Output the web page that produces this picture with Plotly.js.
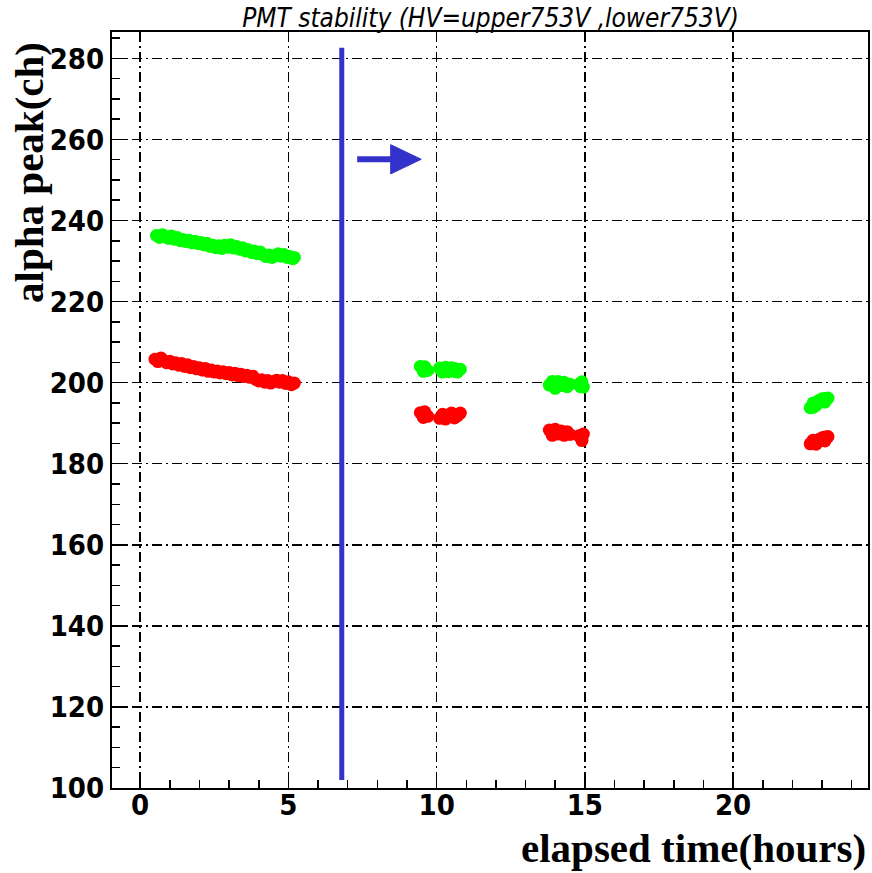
<!DOCTYPE html>
<html>
<head>
<meta charset="utf-8">
<script src="https://cdn.plot.ly/plotly-3.0.1.min.js"></script>
<style>html,body{margin:0;padding:0;background:#fff;}#chart{width:872px;height:873px;}</style>
</head>
<body>
<div id="chart"></div>
<script>
// upper PMT (green) readings: elapsed time (hours) and alpha peak (ch)
const upperTime = [0.55,0.65,0.75,0.85,0.95,1.05,1.15,1.25,1.35,1.45,1.55,1.65,1.75,1.85,1.95,2.05,2.15,2.25,2.35,2.45,2.55,2.65,2.75,2.85,2.95,3.05,3.15,3.25,3.35,3.45,3.55,3.65,3.75,3.85,3.95,4.05,4.15,4.25,4.35,4.45,4.55,4.65,4.75,4.85,4.95,5.05,5.15,5.2,
  9.45,9.55,9.6,9.7,9.55,10.1,10.2,10.3,10.4,10.5,10.6,10.7,10.8,10.3,10.6,
  13.8,13.9,14.0,14.1,14.2,14.3,14.4,14.5,14.8,14.9,14.95,14.0,14.85,
  22.6,22.7,22.8,22.9,23.0,23.1,23.2,22.7,23.1];
const upperPeak = [236.3,235.8,236.5,236.0,235.6,236.2,235.4,235.8,235.0,235.3,234.8,235.1,234.5,234.9,234.3,234.6,234.0,234.4,233.6,233.9,233.3,233.8,233.1,233.9,233.4,234.0,233.2,233.6,232.9,233.3,232.5,232.8,232.1,232.5,231.8,232.2,231.6,231.1,231.5,230.9,231.3,231.8,231.2,231.6,230.9,231.1,230.6,230.9,
  204.0,202.8,203.9,203.0,203.5,203.6,202.6,203.8,202.7,203.7,202.8,202.6,203.3,203.0,203.5,
  199.4,200.3,198.6,200.3,199.3,200.1,199.0,199.6,199.6,200.2,198.9,199.7,199.0,
  193.8,195.0,194.4,195.6,196.0,195.2,196.2,193.9,196.1];

// lower PMT (red) readings
const lowerTime = [0.5,0.6,0.7,0.8,0.9,1.0,1.1,1.2,1.3,1.4,1.5,1.6,1.7,1.8,1.9,2.0,2.1,2.2,2.3,2.4,2.5,2.6,2.7,2.8,2.9,3.0,3.1,3.2,3.3,3.4,3.5,3.6,3.7,3.8,3.9,4.0,4.1,4.2,4.3,4.4,4.5,4.6,4.7,4.8,4.9,5.0,5.1,5.2,
  9.45,9.55,9.6,9.7,9.55,10.1,10.2,10.3,10.4,10.5,10.6,10.7,10.8,10.3,10.6,
  13.8,13.9,14.0,14.1,14.2,14.3,14.4,14.5,14.8,14.9,14.95,14.9,14.0,
  22.6,22.7,22.8,22.9,23.0,23.1,23.2,22.7,23.1];
const lowerPeak = [205.8,205.2,206.1,205.4,204.9,205.3,204.6,204.9,204.3,204.7,204.0,204.4,203.7,204.0,203.4,203.7,203.1,203.5,202.8,203.1,202.6,202.9,202.4,202.7,202.2,202.5,201.9,202.3,201.7,202.1,201.5,201.8,201.3,201.6,200.8,200.4,200.7,200.1,200.5,199.9,200.3,200.6,200.1,200.5,199.8,200.2,199.5,199.9,
  192.6,191.4,192.8,191.7,191.9,191.2,192.2,191.0,192.0,192.5,191.3,191.8,192.5,191.6,192.1,
  188.3,187.0,188.5,187.3,188.1,187.0,187.9,187.2,186.9,186.0,187.3,185.7,187.6,
  184.9,185.8,184.8,186.0,186.4,185.6,186.7,185.0,186.6];

// x / y tick values
const xTicks = [0,5,10,15,20];
const yTicks = [100,120,140,160,180,200,220,240,260,280];

// marker line (HV change) and arrow, in data units
const hvChangeTime = 6.8;
const hvLineRange = [102, 282.6];
const arrowShaft = [7.32, 8.5];
const arrowTip = 9.48;
const arrowLevel = 255.1;
const arrowHalf = 3.6;

const tickFont = {family: "'Liberation Sans Narrow','DejaVu Sans Condensed',Arial,sans-serif", size: 29, color: '#000', weight: 'bold'};
const titleFont = {family: "'Liberation Serif','Times New Roman',serif", size: 41, color: '#000', weight: 'bold'};

const traces = [
  {x: upperTime, y: upperPeak, type: 'scatter', mode: 'markers', name: 'upper',
   marker: {color: '#00ff00', size: 13}},
  {x: lowerTime, y: lowerPeak, type: 'scatter', mode: 'markers', name: 'lower',
   marker: {color: '#ff0000', size: 13}}
];

const axisCommon = {
  showline: true, linecolor: '#000', linewidth: 2, mirror: true,
  ticks: 'inside', ticklen: 16, tickwidth: 1.5, tickcolor: '#000',
  showgrid: true, gridcolor: '#000', gridwidth: 1.5, griddash: '10px,4px,2px,4px',
  zeroline: false, tickfont: tickFont, tickmode: 'array'
};

const layout = {
  width: 872, height: 873,
  margin: {l: 112, r: 4, t: 32, b: 85},
  paper_bgcolor: '#fff', plot_bgcolor: '#fff',
  showlegend: false,
  title: {text: 'PMT stability (HV=upper753V ,lower753V)',
          font: {family: "'Liberation Sans Narrow','DejaVu Sans Condensed',Arial,sans-serif", size: 26, style: 'italic', color: '#000'},
          x: 0.5625, xanchor: 'center', y: 0.979, yanchor: 'middle'},
  xaxis: Object.assign({}, axisCommon, {
    range: [-0.95, 24.55], tickvals: xTicks, ticktext: xTicks.map(String), ticklabelstandoff: -10,
    minor: {dtick: 1, ticklen: 8, tickwidth: 1.5, tickcolor: '#000', ticks: 'inside', showgrid: false}
  }),
  yaxis: Object.assign({}, axisCommon, {
    range: [100, 286.5], tickvals: yTicks, ticktext: yTicks.map(String),
    minor: {dtick: 5, ticklen: 8, tickwidth: 1.5, tickcolor: '#000', ticks: 'inside', showgrid: false}
  }),
  shapes: [
    {type: 'line', xref: 'x', yref: 'y', x0: hvChangeTime, x1: hvChangeTime, y0: hvLineRange[0], y1: hvLineRange[1],
     line: {color: '#3333cc', width: 5}},
    {type: 'line', xref: 'x', yref: 'y', x0: arrowShaft[0], x1: arrowShaft[1], y0: arrowLevel, y1: arrowLevel,
     line: {color: '#3333cc', width: 6}},
    {type: 'path', xref: 'x', yref: 'y',
     path: 'M ' + (arrowShaft[1] - 0.05) + ' ' + (arrowLevel + arrowHalf) + ' L ' + arrowTip + ' ' + arrowLevel + ' L ' + (arrowShaft[1] - 0.05) + ' ' + (arrowLevel - arrowHalf) + ' Z',
     fillcolor: '#3333cc', line: {color: '#3333cc', width: 1}}
  ],
  annotations: [
    {text: 'elapsed time(hours)', xref: 'paper', yref: 'paper', x: 1.0, y: -0.08,
     xanchor: 'right', yanchor: 'middle', showarrow: false, font: titleFont},
    {text: 'alpha peak(ch)', xref: 'paper', yref: 'paper', x: -0.11, y: 0.99,
     xanchor: 'center', yanchor: 'top', textangle: -90, showarrow: false, font: titleFont}
  ]
};

Plotly.newPlot('chart', traces, layout, {displayModeBar: false, staticPlot: true});
</script>
</body>
</html>
